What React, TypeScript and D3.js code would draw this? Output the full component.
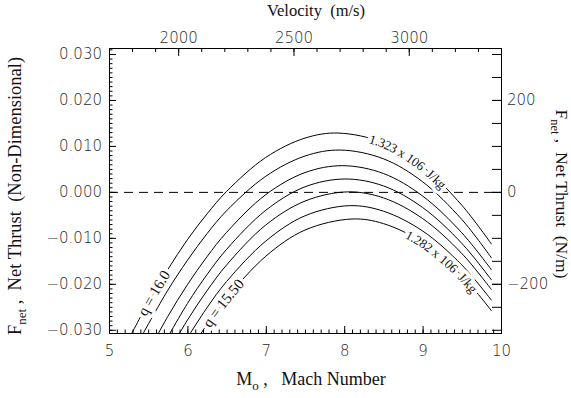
import { useEffect, useRef } from 'react';
import * as d3 from 'd3';

type Pt = [number, number];

// Net thrust curves, [Mach, Fnet] (top curve q = 16.0 ... bottom q = 15.50)
const curveQ160: Pt[] = [[5.25, -0.0321], [5.5, -0.0241], [5.75, -0.0169], [6.0, -0.0104], [6.25, -0.0048], [6.5, 0.0001], [7.0, 0.0075], [7.5, 0.0117], [7.92, 0.0128], [8.5, 0.0107], [9.0, 0.0055], [9.5, -0.0029], [9.88, -0.0114]];
const curveQ2: Pt[] = [[5.4, -0.0319], [5.75, -0.0214], [6.0, -0.0149], [6.25, -0.0091], [6.5, -0.0041], [7.0, 0.0034], [7.5, 0.0078], [7.95, 0.0091], [8.5, 0.0072], [9.0, 0.0022], [9.5, -0.0060], [9.88, -0.0144]];
const curveQ3: Pt[] = [[5.5, -0.0349], [5.75, -0.0271], [6.0, -0.0202], [6.25, -0.0141], [6.5, -0.0088], [7.0, -0.0006], [7.5, 0.0042], [7.98, 0.0057], [8.5, 0.0040], [9.0, -0.0009], [9.5, -0.0089], [9.88, -0.0170]];
const curveQ4: Pt[] = [[5.6, -0.0361], [6.0, -0.0243], [6.25, -0.0180], [6.5, -0.0125], [7.0, -0.0040], [7.5, 0.0011], [8.01, 0.0028], [8.5, 0.0013], [9.0, -0.0034], [9.5, -0.0112], [9.88, -0.0192]];
const curveQ5: Pt[] = [[5.75, -0.0351], [6.0, -0.0279], [6.25, -0.0215], [6.5, -0.0159], [7.0, -0.0072], [7.5, -0.0020], [8.04, 0.0000], [8.5, -0.0013], [9.0, -0.0058], [9.5, -0.0134], [9.88, -0.0213]];
const curveQ6: Pt[] = [[5.95, -0.0331], [6.25, -0.0252], [6.5, -0.0195], [7.0, -0.0107], [7.5, -0.0052], [8.07, -0.0030], [8.5, -0.0042], [9.0, -0.0085], [9.5, -0.0159], [9.88, -0.0236]];
const curveQ155: Pt[] = [[6.1, -0.0327], [6.3, -0.0276], [6.5, -0.0231], [7.0, -0.0140], [7.5, -0.0083], [8.1, -0.0059], [8.5, -0.0069], [9.0, -0.0110], [9.5, -0.0182], [9.88, -0.0259]];

const thrustCurves = [curveQ160, curveQ2, curveQ3, curveQ4, curveQ5, curveQ6, curveQ155];

// contour-style labels: which curve, Mach at label centre, text
const curveLabels = [
  { curve: 0, at: 5.57, text: 'q = 16.0', size: 15 },
  { curve: 0, at: 8.84, text: '1.323 x 106\u00a0\u00a0J/kg', size: 13 },
  { curve: 6, at: 6.45, text: 'q = 15.50', size: 15 },
  { curve: 6, at: 9.27, text: '1.282 x 106\u00a0\u00a0J/kg', size: 13 },
];

const leftTicks = [-0.03, -0.02, -0.01, 0, 0.01, 0.02, 0.03];
const rightTicks = [-200, 0, 200];
const machTicks = [5, 6, 7, 8, 9, 10];
const velocityTicks = [2000, 2500, 3000];

const W = 571;
const H = 398;
const plot = { left: 109, right: 501, top: 48, bottom: 333 };
const TICK_FONT = '"DejaVu Sans", sans-serif';
const TITLE_FONT = '"Liberation Serif", "Times New Roman", serif';

export default function App() {
  const svgRef = useRef<SVGSVGElement>(null);

  useEffect(() => {
    if (!svgRef.current) return;
    const svg = d3.select(svgRef.current);
    svg.selectAll('*').remove();

    const x = d3.scaleLinear().domain([5, 10]).range([plot.left, plot.right]);
    const y = d3.scaleLinear().domain([-0.0307, 0.0313]).range([plot.bottom, plot.top]);
    const yRight = d3.scaleLinear().domain([-307, 313]).range([plot.bottom, plot.top]);
    const xTop = d3.scaleLinear().domain([1700, 3400]).range([plot.left, plot.right]);

    const styleAxis = (g: any) => {
      g.attr('font-family', null).attr('font-size', null);
      g.select('.domain').remove();
      g.selectAll('line').attr('stroke', '#000');
      g.selectAll('text')
        .attr('fill', '#2a2a2a')
        .style('font-family', TICK_FONT)
        .style('font-weight', '300')
        .style('font-size', '15px');
    };

    // clip for curves
    svg.append('defs').append('clipPath').attr('id', 'plot-clip')
      .append('rect')
      .attr('x', plot.left).attr('y', plot.top)
      .attr('width', plot.right - plot.left).attr('height', plot.bottom - plot.top);

    // Left axis
    svg.append('g').attr('transform', `translate(${plot.left},0)`)
      .call(d3.axisLeft(y).tickValues(d3.range(-30, 32).map(v => v / 1000)).tickSize(-3.5).tickFormat(() => ''))
      .call(styleAxis);
    svg.append('g').attr('transform', `translate(${plot.left},0)`)
      .call(d3.axisLeft(y).tickValues(leftTicks).tickSize(-7).tickPadding(7).tickFormat(d3.format('.3f')))
      .call(styleAxis);

    // Right axis (N/m)
    svg.append('g').attr('transform', `translate(${plot.right},0)`)
      .call(d3.axisRight(yRight).tickValues(d3.range(-300, 301, 50)).tickSize(-9).tickFormat(() => ''))
      .call(styleAxis);
    svg.append('g').attr('transform', `translate(${plot.right},0)`)
      .call(d3.axisRight(yRight).tickValues(rightTicks).tickSize(-9).tickPadding(6).tickFormat(d3.format('d')))
      .call(styleAxis);

    // Bottom axis (Mach)
    svg.append('g').attr('transform', `translate(0,${plot.bottom})`)
      .call(d3.axisBottom(x).tickValues(d3.range(50, 101).map(v => v / 10)).tickSize(-3.5).tickFormat(() => ''))
      .call(styleAxis);
    svg.append('g').attr('transform', `translate(0,${plot.bottom})`)
      .call(d3.axisBottom(x).tickValues(machTicks).tickSize(-7).tickPadding(12).tickFormat(d3.format('d')))
      .call(styleAxis);

    // Top axis (velocity)
    svg.append('g').attr('transform', `translate(0,${plot.top})`)
      .call(d3.axisTop(xTop).tickValues(d3.range(1700, 3401, 100)).tickSize(-4).tickFormat(() => ''))
      .call(styleAxis);
    svg.append('g').attr('transform', `translate(0,${plot.top})`)
      .call(d3.axisTop(xTop).tickValues(velocityTicks).tickSize(-8).tickPadding(5).tickFormat(d3.format('d')))
      .call(styleAxis);

    // Frame
    svg.append('rect')
      .attr('x', plot.left + 0.5).attr('y', plot.top + 0.5)
      .attr('width', plot.right - plot.left).attr('height', plot.bottom - plot.top)
      .attr('fill', 'none').attr('stroke', '#000').attr('stroke-width', 1);

    // Zero line
    svg.append('line')
      .attr('x1', plot.left).attr('x2', plot.right)
      .attr('y1', y(0) + 0.5).attr('y2', y(0) + 0.5)
      .attr('stroke', '#000').attr('stroke-width', 1)
      .attr('stroke-dasharray', '9,6');

    // Curves
    const line = d3.line<Pt>()
      .x(d => x(d[0]))
      .y(d => y(d[1]))
      .curve(d3.curveCatmullRom.alpha(0.5));

    const curvesG = svg.append('g').attr('clip-path', 'url(#plot-clip)');
    const paths = thrustCurves.map((c, i) =>
      curvesG.append('path')
        .attr('id', `thrust-${i}`)
        .attr('d', line(c) || '')
        .attr('fill', 'none')
        .attr('stroke', '#000')
        .attr('stroke-width', 1)
        .node() as SVGPathElement
    );

    // Labels along curves: a white knock-out pass, then the text itself
    const offsets = curveLabels.map(lab => {
      const p = paths[lab.curve];
      const target = x(lab.at);
      let lo = 0;
      let hi = p.getTotalLength();
      for (let k = 0; k < 40; k++) {
        const mid = (lo + hi) / 2;
        if (p.getPointAtLength(mid).x < target) lo = mid; else hi = mid;
      }
      return lo;
    });

    ['halo', 'ink'].forEach(pass => {
      curveLabels.forEach((lab, i) => {
        const t = svg.append('text')
          .attr('font-family', TITLE_FONT)
          .attr('font-size', lab.size)
          .attr('dominant-baseline', 'central')
          .attr('text-anchor', 'middle');
        if (pass === 'halo') {
          t.attr('fill', '#fff').attr('stroke', '#fff').attr('stroke-width', 7).attr('stroke-linejoin', 'round');
        } else {
          t.attr('fill', '#111');
        }
        t.append('textPath')
          .attr('href', `#thrust-${lab.curve}`)
          .attr('startOffset', offsets[i])
          .text(lab.text);
      });
    });

    // Titles
    svg.append('text')
      .attr('x', 316).attr('y', 16)
      .attr('text-anchor', 'middle')
      .attr('font-family', TITLE_FONT).attr('font-size', 16.5).attr('fill', '#111')
      .style('white-space', 'pre')
      .text('Velocity  (m/s)');

    const bottomTitle = svg.append('text')
      .attr('x', 311).attr('y', 385)
      .attr('text-anchor', 'middle')
      .attr('font-family', TITLE_FONT).attr('font-size', 18).attr('fill', '#111')
      .style('white-space', 'pre');
    bottomTitle.append('tspan').text('M');
    bottomTitle.append('tspan').attr('dy', 5).attr('font-size', 13).text('o');
    bottomTitle.append('tspan').attr('dy', -5).text(' ,   Mach Number');

    const leftTitle = svg.append('text')
      .attr('transform', 'translate(21,196) rotate(-90)')
      .attr('text-anchor', 'middle')
      .attr('font-family', TITLE_FONT).attr('font-size', 18.5).attr('fill', '#111')
      .style('white-space', 'pre');
    leftTitle.append('tspan').text('F');
    leftTitle.append('tspan').attr('dy', 5).attr('font-size', 13).text('net');
    leftTitle.append('tspan').attr('dy', -5).text(' ,  Net Thrust  (Non-Dimensional)');

    const rightTitle = svg.append('text')
      .attr('transform', 'translate(556,194) rotate(90)')
      .attr('text-anchor', 'middle')
      .attr('font-family', TITLE_FONT).attr('font-size', 17.5).attr('fill', '#111')
      .style('white-space', 'pre');
    rightTitle.append('tspan').text('F');
    rightTitle.append('tspan').attr('dy', 5).attr('font-size', 12.5).text('net');
    rightTitle.append('tspan').attr('dy', -5).text(' ,  Net Thrust  (N/m)');
  }, []);

  return (
    <svg
      ref={svgRef}
      width={W}
      height={H}
      style={{ position: 'absolute', left: 0, top: 0, background: '#fff', display: 'block' }}
    />
  );
}
